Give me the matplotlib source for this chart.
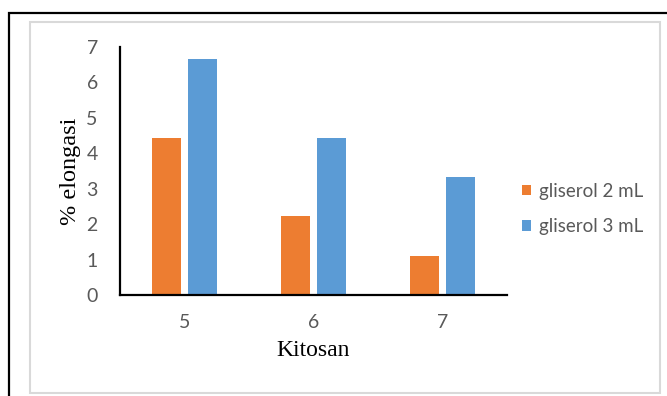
import matplotlib.pyplot as plt
import numpy as np
from matplotlib.patches import Rectangle

# kitosan concentration groups and elongation per glycerol volume
kitosan = ["5", "6", "7"]
gliserol_2 = [4.44, 2.22, 1.11]
gliserol_3 = [6.67, 4.44, 3.33]
series_labels = ["gliserol 2 mL", "gliserol 3 mL"]
y_ticks = [0, 1, 2, 3, 4, 5, 6, 7]

W, H = 667, 396
fig = plt.figure(figsize=(W / 100, H / 100), dpi=100)

# outer black frame and inner light-grey chart border
fig.patches.append(Rectangle((8.5 / W, -0.1), 1.2, 1 - 12.5 / H + 0.1,
                             transform=fig.transFigure, fill=False,
                             edgecolor="black", linewidth=1.6))
fig.patches.append(Rectangle((30 / W, 1 - 393 / H), 630 / W, 371 / H,
                             transform=fig.transFigure, fill=False,
                             edgecolor="#d9d9d9", linewidth=1.5))

ax = fig.add_axes([120 / W, 1 - 295 / H, 387 / W, 248 / H])

x = np.arange(len(kitosan))
w = 0.225
off = 0.143
ax.bar(x - off, gliserol_2, w, color="#ed7d31", label=series_labels[0])
ax.bar(x + off, gliserol_3, w, color="#5b9bd5", label=series_labels[1])

ax.set_xlim(-0.5, len(kitosan) - 0.5)
ax.set_ylim(0, 7)
ax.set_xticks(x)
ax.set_xticklabels(kitosan)
ax.set_yticks(y_ticks)

for s in ["top", "right"]:
    ax.spines[s].set_visible(False)
for s in ["left", "bottom"]:
    ax.spines[s].set_linewidth(1.6)
    ax.spines[s].set_color("black")

ax.tick_params(axis="both", length=0, labelcolor="#595959", labelsize=14)
ax.tick_params(axis="x", pad=14)
ax.tick_params(axis="y", pad=16)
for lab in ax.get_xticklabels() + ax.get_yticklabels():
    lab.set_family("Lato")

ax.set_xlabel("Kitosan", family="Liberation Serif", fontsize=17, labelpad=6)
ax.set_ylabel("% elongasi", family="Liberation Serif", fontsize=17.5, labelpad=4)

leg = fig.legend(loc="center left", bbox_to_anchor=(505 / W, 1 - 209 / H),
                 frameon=False, handlelength=0.5, handleheight=0.5,
                 handletextpad=0.4, labelspacing=1.0,
                 prop={"family": "Lato", "size": 13.5})
for t in leg.get_texts():
    t.set_color("#595959")

fig.savefig("out.png", dpi=100)
